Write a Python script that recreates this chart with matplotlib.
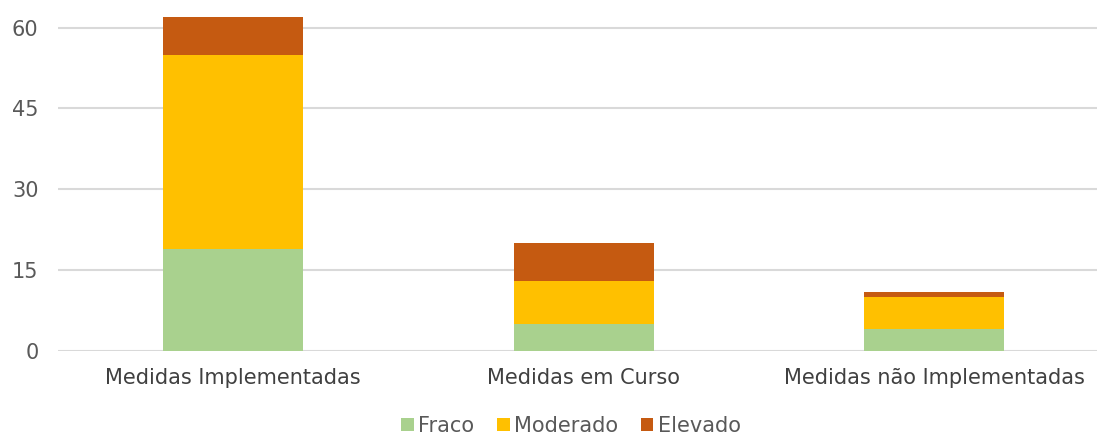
import matplotlib
matplotlib.use("Agg")
import matplotlib.pyplot as plt
import numpy as np

categories = ["Medidas Implementadas", "Medidas em Curso", "Medidas não Implementadas"]
fraco = [19, 5, 4]
moderado = [36, 8, 6]
elevado = [7, 7, 1]
series_names = ["Fraco", "Moderado", "Elevado"]
colors = ["#A9D18E", "#FFC000", "#C55A11"]
yticks = [0, 15, 30, 45, 60]

plt.rcParams['font.family'] = ['DejaVu Sans']
fig = plt.figure(figsize=(10.97, 4.36), dpi=100)
W, H = 1097, 436
ax = fig.add_axes([58 / W, 85 / H, (1109.5 - 58) / W, 351 / H])

x = np.arange(len(categories))
bottom = np.zeros(len(categories))
for vals, name, c in zip([fraco, moderado, elevado], series_names, colors):
    ax.bar(x, vals, width=0.4, bottom=bottom, color=c, label=name, zorder=3)
    bottom += np.array(vals)

ax.set_xlim(-0.5, 2.5)
ax.set_ylim(0, 351 / 5.39)
ax.set_yticks(yticks)
ax.set_xticks(x)
ax.set_xticklabels(categories, fontsize=15, color="#404040")
ax.tick_params(axis='y', labelsize=15, labelcolor="#595959", length=0, pad=14)
ax.tick_params(axis='x', length=0, pad=12)
ax.grid(axis='y', color="#D9D9D9", linewidth=1.5, zorder=0)
for s in ax.spines.values():
    s.set_visible(False)

handles, labels = ax.get_legend_handles_labels()
fig.legend(handles, labels, loc='center', bbox_to_anchor=(571 / W, 1 - 426 / H),
           ncol=3, frameon=False, fontsize=15, labelcolor="#595959",
           handlelength=0.6, handleheight=0.6, handletextpad=0.2, columnspacing=1.1)

fig.savefig("out.png", dpi=100)
